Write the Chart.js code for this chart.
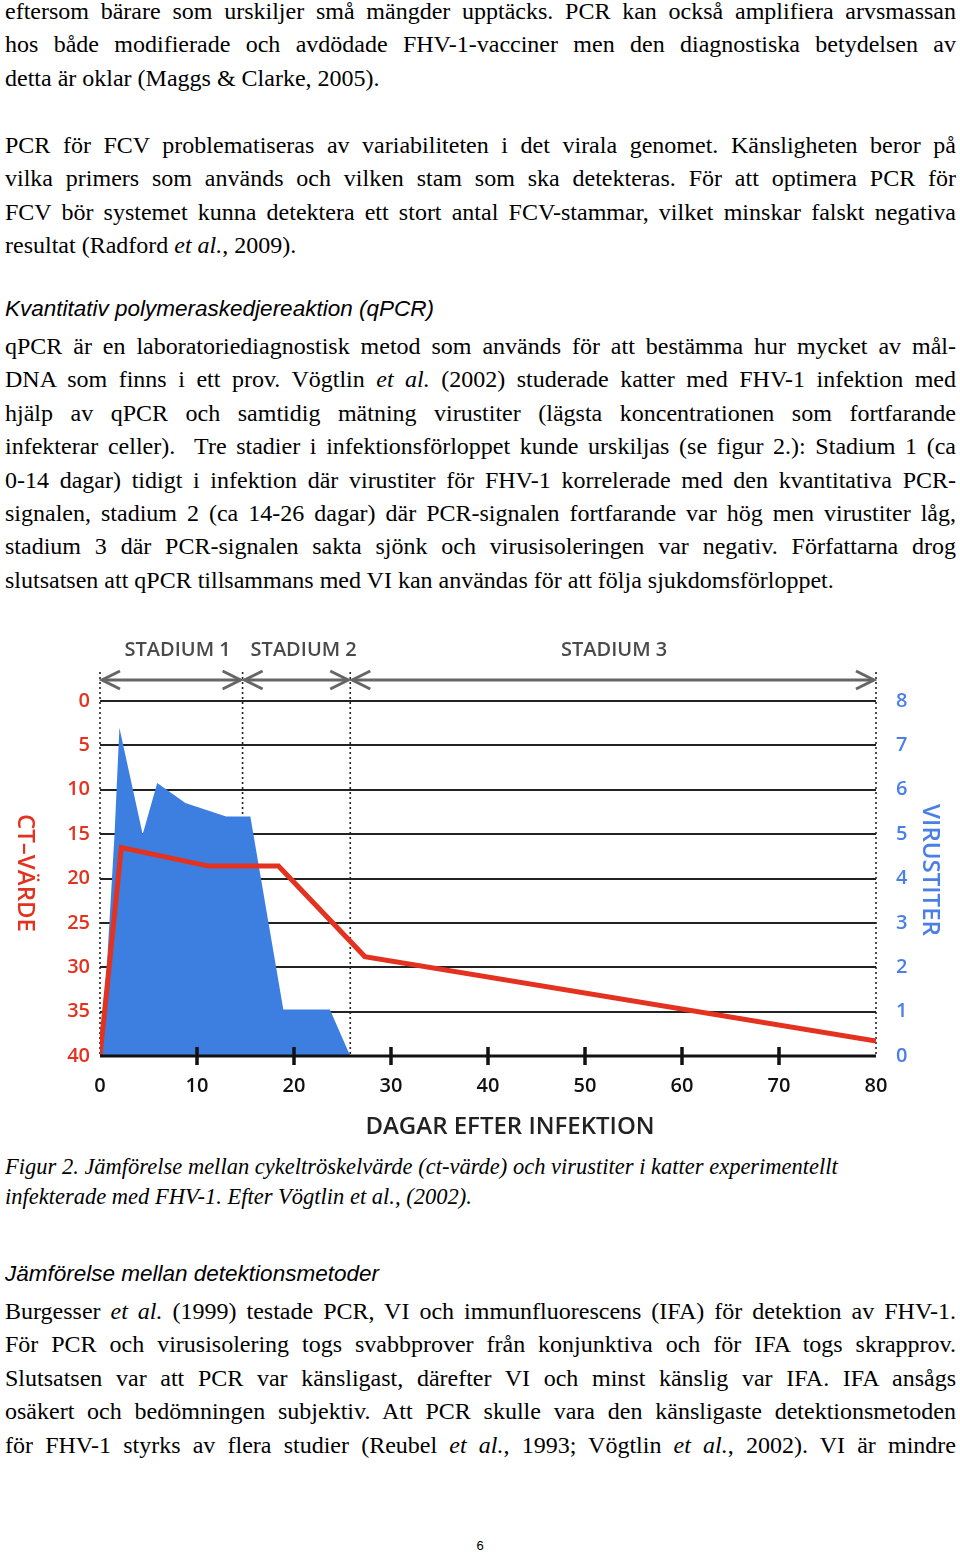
<!DOCTYPE html>
<html><head><meta charset="utf-8">
<script src="https://cdn.jsdelivr.net/npm/chart.js@4"></script>
<style>
body{margin:0;width:960px;height:1553px;position:relative;background:#fff;overflow:hidden}
.p{position:absolute;left:5px;width:951px;font-family:"Liberation Serif","Times New Roman",serif;font-size:24px;line-height:33.4px;color:#000}
.p div{white-space:nowrap;text-align:justify;text-align-last:justify}
.p div.l{text-align-last:left}
.h{position:absolute;left:5px;font-family:"Liberation Sans",Arial,sans-serif;font-style:italic;font-size:22.5px;color:#000}
.cap{position:absolute;left:5px;font-family:"Liberation Serif",serif;font-style:italic;font-size:22.5px;line-height:30px}
#wrap{position:absolute;left:0;top:630px;width:960px;height:520px}
.pg{position:absolute;left:0;width:960px;text-align:center;top:1538px;font-family:"Liberation Sans",Arial;font-size:13px}
</style></head><body>
<div class="p" style="top:-5px">
<div>eftersom bärare som urskiljer små mängder upptäcks. PCR kan också amplifiera arvsmassan</div>
<div>hos både modifierade och avdödade FHV-1-vacciner men den diagnostiska betydelsen av</div>
<div class="l">detta är oklar (Maggs &amp; Clarke, 2005).</div>
</div>
<div class="p" style="top:129px">
<div>PCR för FCV problematiseras av variabiliteten i det virala genomet. Känsligheten beror på</div>
<div>vilka primers som används och vilken stam som ska detekteras. För att optimera PCR för</div>
<div>FCV bör systemet kunna detektera ett stort antal FCV-stammar, vilket minskar falskt negativa</div>
<div class="l">resultat (Radford <i>et al.</i>, 2009).</div>
</div>
<div class="h" style="top:296px">Kvantitativ polymeraskedjereaktion (qPCR)</div>
<div class="p" style="top:330px">
<div>qPCR är en laboratoriediagnostisk metod som används för att bestämma hur mycket av mål-</div>
<div>DNA som finns i ett prov. Vögtlin <i>et al.</i> (2002) studerade katter med FHV-1 infektion med</div>
<div>hjälp av qPCR och samtidig mätning virustiter (lägsta koncentrationen som fortfarande</div>
<div>infekterar celler).&nbsp; Tre stadier i infektionsförloppet kunde urskiljas (se figur 2.): Stadium 1 (ca</div>
<div>0-14 dagar) tidigt i infektion där virustiter för FHV-1 korrelerade med den kvantitativa PCR-</div>
<div>signalen, stadium 2 (ca 14-26 dagar) där PCR-signalen fortfarande var hög men virustiter låg,</div>
<div>stadium 3 där PCR-signalen sakta sjönk och virusisoleringen var negativ. Författarna drog</div>
<div class="l">slutsatsen att qPCR tillsammans med VI kan användas för att följa sjukdomsförloppet.</div>
</div>
<div id="wrap"><canvas id="c" width="960" height="520"></canvas></div>
<div class="cap" style="top:1152px">Figur 2. Jämförelse mellan cykeltröskelvärde (ct-värde) och virustiter i katter experimentellt<br>infekterade med FHV-1. Efter Vögtlin et al., (2002).</div>
<div class="h" style="top:1261px">Jämförelse mellan detektionsmetoder</div>
<div class="p" style="top:1295px">
<div>Burgesser <i>et al.</i> (1999) testade PCR, VI och immunfluorescens (IFA) för detektion av FHV-1.</div>
<div>För PCR och virusisolering togs svabbprover från konjunktiva och för IFA togs skrapprov.</div>
<div>Slutsatsen var att PCR var känsligast, därefter VI och minst känslig var IFA. IFA ansågs</div>
<div>osäkert och bedömningen subjektiv. Att PCR skulle vara den känsligaste detektionsmetoden</div>
<div>för FHV-1 styrks av flera studier (Reubel <i>et al.</i>, 1993; Vögtlin <i>et al.</i>, 2002). VI är mindre</div>
</div>
<div class="pg">6</div>
<script>
// data
const virusDays  = [0, 0.7, 1.5, 2.0, 4.4, 5.9, 8.8, 13.0, 15.5, 18.9, 23.7, 25.8];
const virusTiter = [0, 2.0, 5.0, 7.4, 5.0, 6.15, 5.7, 5.4, 5.4, 1.05, 1.05, 0];
const ctDays   = [0, 2.2, 11.2, 18.4, 27.3, 80];
const ctValues = [40, 16.5, 18.6, 18.6, 28.8, 38.3];
const stageBounds = [0, 14.7, 25.8, 80];
const stageLabels = ['STADIUM 1', 'STADIUM 2', 'STADIUM 3'];
const stageLabelDays = [8, 21, 53];
const xTickDays = [10, 20, 30, 40, 50, 60, 70];

const SANS = '"Open Sans","DejaVu Sans",sans-serif';
const RED = '#e3321f', BLUE = '#4a80e6', BLUEFILL = '#3d7fe0';

const deco = {
  id:'deco',
  beforeDatasetsDraw(ch){
    const c=ch.ctx, x=ch.scales.x, a=ch.chartArea;
    c.save();
    c.setLineDash([2,3]); c.strokeStyle='#222'; c.lineWidth=1.6;
    stageBounds.forEach(d=>{const px=x.getPixelForValue(d);c.beginPath();c.moveTo(px,42);c.lineTo(px,a.bottom);c.stroke();});
    c.restore();
  },
  afterDatasetsDraw(ch){
    const c=ch.ctx, x=ch.scales.x, a=ch.chartArea;
    c.save();
    c.strokeStyle='#111'; c.lineWidth=3;
    c.beginPath();c.moveTo(a.left,a.bottom);c.lineTo(a.right,a.bottom);c.stroke();
    c.lineWidth=3.5;
    xTickDays.forEach(d=>{const px=x.getPixelForValue(d);c.beginPath();c.moveTo(px,a.bottom-9);c.lineTo(px,a.bottom+9);c.stroke();});
    const ay=50; c.strokeStyle='#666'; c.lineWidth=3;
    for(let i=0;i<3;i++){
      const x1=x.getPixelForValue(stageBounds[i])+2, x2=x.getPixelForValue(stageBounds[i+1])-2;
      c.beginPath();c.moveTo(x1,ay);c.lineTo(x2,ay);c.stroke();
      c.beginPath();c.moveTo(x1+18,ay-9);c.lineTo(x1,ay);c.lineTo(x1+18,ay+9);c.stroke();
      c.beginPath();c.moveTo(x2-18,ay-9);c.lineTo(x2,ay);c.lineTo(x2-18,ay+9);c.stroke();
    }
    c.fillStyle='#4a4a4a'; c.font='600 20px '+SANS; c.textAlign='center'; c.textBaseline='middle';
    stageLabels.forEach((s,i)=>c.fillText(s,x.getPixelForValue(stageLabelDays[i]),20));
    c.fillStyle='#222'; c.font='600 24px '+SANS;
    c.fillText('DAGAR EFTER INFEKTION',510,497);
    c.save();c.translate(25,243);c.rotate(Math.PI/2);c.fillStyle=RED;c.font='600 24px '+SANS;c.fillText('CT–VÄRDE',0,0);c.restore();
    c.save();c.translate(930,240);c.rotate(Math.PI/2);c.fillStyle=BLUE;c.font='600 24px '+SANS;c.fillText('VIRUSTITER',0,0);c.restore();
    c.restore();
  }
};

new Chart(document.getElementById('c'),{
  type:'scatter',
  data:{datasets:[
    {label:'CT', data:ctDays.map((d,i)=>({x:d,y:ctValues[i]})), yAxisID:'y', showLine:true, borderColor:RED, borderWidth:5, pointRadius:0, fill:false, order:1},
    {label:'Virustiter', data:virusDays.map((d,i)=>({x:d,y:virusTiter[i]})), yAxisID:'y2', showLine:true, borderWidth:0, borderColor:BLUEFILL, backgroundColor:BLUEFILL, pointRadius:0, fill:'origin', order:2}
  ]},
  options:{
    responsive:false, animation:false,
    layout:{padding:{top:71,left:0,right:0,bottom:0}},
    plugins:{legend:{display:false},tooltip:{enabled:false}},
    scales:{
      x:{type:'linear',min:0,max:80,ticks:{stepSize:10,color:'#111',font:{family:SANS,size:20,weight:'600'},padding:10},
         grid:{display:false},border:{display:false},afterFit(s){s.height=94;}},
      y:{position:'left',reverse:true,min:0,max:40,ticks:{stepSize:5,color:RED,font:{family:SANS,size:20,weight:'600'},padding:10},
         grid:{color:'#222',lineWidth:2,drawTicks:false},border:{display:false},afterFit(s){s.width=100;}},
      y2:{position:'right',min:0,max:8,ticks:{stepSize:1,color:BLUE,font:{family:SANS,size:20,weight:'600'},padding:12},
         grid:{display:false},border:{display:false},afterFit(s){s.width=84;}}
    }
  },
  plugins:[deco]
});
</script>
</body></html>
